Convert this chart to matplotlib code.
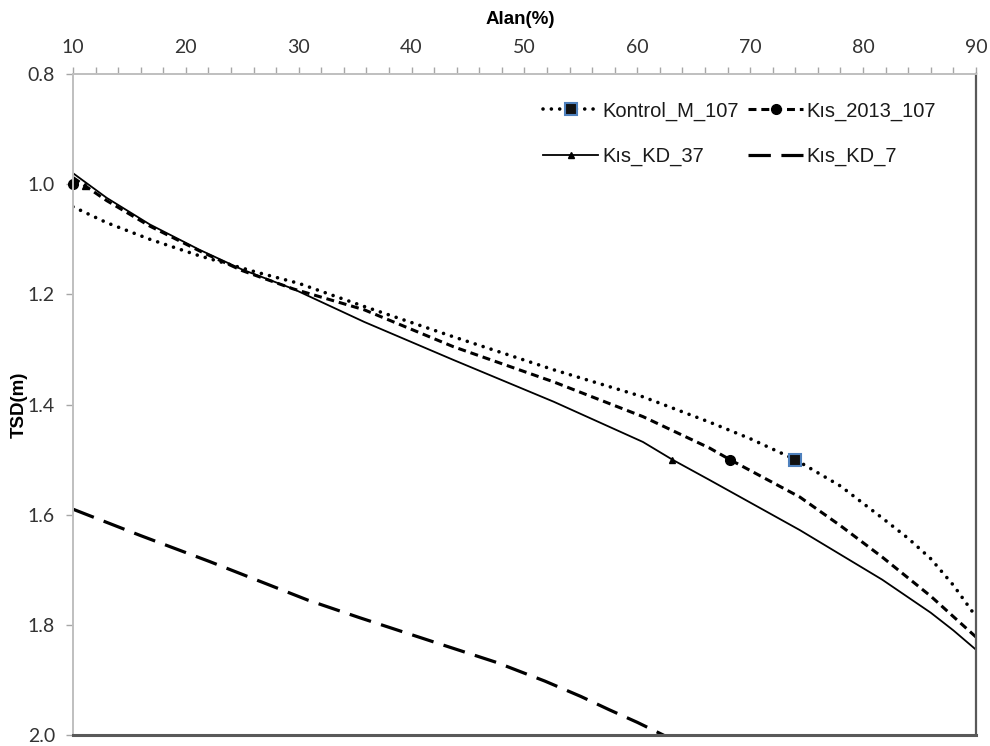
import matplotlib
matplotlib.use("Agg")
import matplotlib.pyplot as plt
from matplotlib.ticker import MultipleLocator, FormatStrFormatter
from matplotlib.lines import Line2D

# ---------- Data ----------
kontrol_x = [10, 13, 16.8, 21.2, 26.3, 30, 35.8, 43.7, 52.6, 60.5, 66.4, 70, 74, 78, 81.7, 84, 86, 88, 90]
kontrol_y = [1.041, 1.070, 1.100, 1.130, 1.160, 1.180, 1.222, 1.277, 1.337, 1.386, 1.432, 1.462, 1.50,
             1.548, 1.606, 1.643, 1.680, 1.728, 1.785]

kis2013_x = [10, 13, 16.8, 21.2, 25, 29.5, 35.8, 43.7, 52.6, 60.5, 66.4, 68.2, 74.4, 78, 81.7, 86, 88, 90]
kis2013_y = [0.988, 1.030, 1.076, 1.121, 1.157, 1.19, 1.228, 1.295, 1.359, 1.422, 1.479, 1.50, 1.568,
             1.620, 1.677, 1.748, 1.785, 1.822]

kd37_x = [10, 13, 16.8, 21.2, 25, 29.5, 35.8, 43.7, 52.6, 60.5, 63.1, 66.4, 74.4, 81.7, 86, 88, 90]
kd37_y = [0.98, 1.025, 1.073, 1.119, 1.155, 1.19, 1.25, 1.319, 1.395, 1.468, 1.50, 1.537, 1.628,
          1.718, 1.778, 1.810, 1.845]

kd7_x = [10, 16, 22.1, 30.8, 35.4, 43.3, 47.5, 51.8, 55, 57.5, 60, 62.3, 64]
kd7_y = [1.59, 1.638, 1.685, 1.755, 1.787, 1.840, 1.868, 1.902, 1.930, 1.954, 1.977, 2.0, 2.02]

# marker points
kontrol_mx, kontrol_my = [74.0], [1.5]
kis2013_mx, kis2013_my = [10.0, 68.2], [1.0, 1.5]
kd37_mx, kd37_my = [11.1, 63.1], [1.003, 1.5]

labels = ["Kontrol_M_107", "K\u0131s_2013_107", "K\u0131s_KD_37", "K\u0131s_KD_7"]

# ---------- Styles ----------
dot_ls = (0, (0.01, 2.3))
dash_ls = (0, (2.6, 1.6))
long_ls = (0, (7, 3.3))
sq_face, sq_edge = "#111111", "#4f81bd"

# ---------- Figure ----------
fig = plt.figure(figsize=(9.9, 7.46), dpi=100)
ax = fig.add_axes([0.0737, 0.0147, 0.9121, 0.8861])

ax.plot(kontrol_x, kontrol_y, color="black", lw=2.6, linestyle=dot_ls, dash_capstyle="round")
ax.plot(kis2013_x, kis2013_y, color="black", lw=2.2, linestyle=dash_ls)
ax.plot(kd37_x, kd37_y, color="black", lw=1.3)
ax.plot(kd7_x, kd7_y, color="black", lw=2.3, linestyle=long_ls)

ax.plot(kontrol_mx, kontrol_my, "s", ms=8, mfc=sq_face, mec=sq_edge, mew=1.5, ls="none", clip_on=False)
ax.plot(kis2013_mx, kis2013_my, "o", ms=7, color="black", ls="none", clip_on=False)
ax.plot(kd37_mx, kd37_my, "^", ms=5, color="black", ls="none", clip_on=False)

ax.set_xlim(10, 90)
ax.set_ylim(2.0, 0.8)

ax.xaxis.tick_top()
ax.xaxis.set_label_position("top")
ax.xaxis.set_major_locator(MultipleLocator(10))
ax.xaxis.set_minor_locator(MultipleLocator(2))
ax.yaxis.set_major_locator(MultipleLocator(0.2))
ax.yaxis.set_major_formatter(FormatStrFormatter("%.1f"))

ax.tick_params(axis="x", which="both", direction="out", length=5, width=1, color="#a6a6a6",
               labelsize=14, labelcolor="#333333", pad=8)
ax.tick_params(axis="y", which="major", direction="out", length=5, width=1, color="#a6a6a6",
               labelsize=14, labelcolor="#333333", pad=8)
for lab in ax.get_xticklabels() + ax.get_yticklabels():
    lab.set_family("Lato")

for side in ["left", "top"]:
    ax.spines[side].set_color("#bfbfbf")
    ax.spines[side].set_linewidth(1.4)
ax.spines["right"].set_color("#595959")
ax.spines["right"].set_linewidth(1.6)
ax.spines["bottom"].set_color("#595959")
ax.spines["bottom"].set_linewidth(2.2)

fig.text(0.526, 0.974, "Alan(%)", ha="center", va="center", fontsize=13.5,
         fontweight="bold", family="Liberation Sans")
fig.text(0.019, 0.458, "TSD(m)", ha="center", va="center", rotation=90, fontsize=13.5,
         fontweight="bold", family="Liberation Sans")

# ---------- Legend ----------
handles = [
    Line2D([], [], color="black", lw=2.6, linestyle=dot_ls, dash_capstyle="round",
           marker="s", ms=8, mfc=sq_face, mec=sq_edge, mew=1.5),
    Line2D([], [], color="black", lw=2.2, linestyle=dash_ls, marker="o", ms=7),
    Line2D([], [], color="black", lw=1.3, marker="^", ms=5),
    Line2D([], [], color="black", lw=2.3, linestyle=long_ls),
]
# ncol=2 fills columns first, so order handles for row-wise reading
order = [0, 2, 1, 3]
leg = ax.legend([handles[i] for i in order], [labels[i] for i in order], ncol=2,
                loc="upper left", bbox_to_anchor=(0.501, 0.986), frameon=False,
                prop={"family": "Liberation Sans", "size": 14.5}, numpoints=1,
                handlelength=2.7, handletextpad=0.2, columnspacing=0.5,
                labelspacing=1.3)
for t in leg.get_texts():
    t.set_color("#1a1a1a")

fig.savefig("out.png", dpi=100)
